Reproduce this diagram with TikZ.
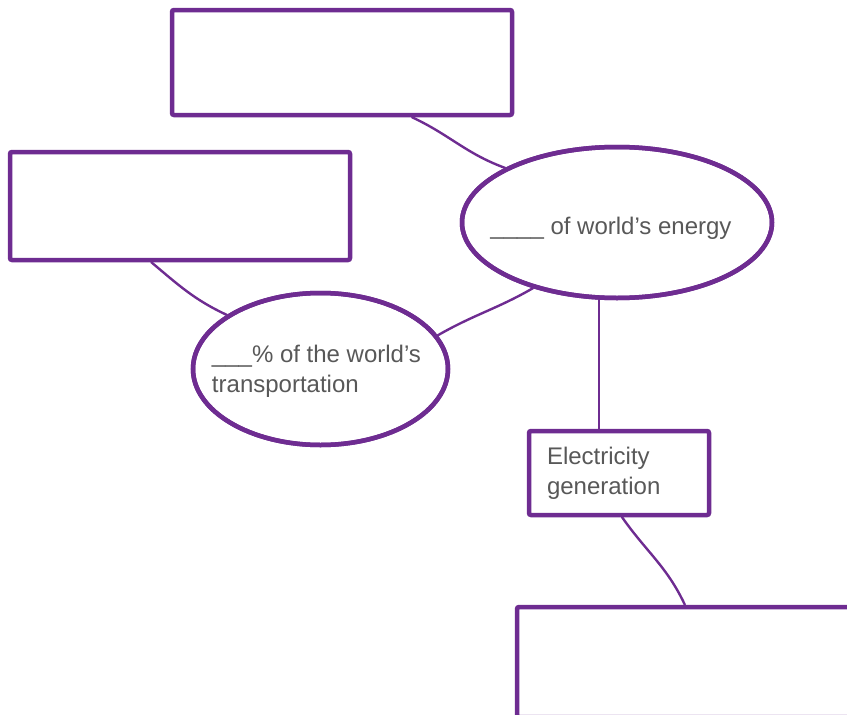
\documentclass[tikz,border=0pt]{standalone}
\usepackage{fontspec}
\setmainfont{Liberation Sans}
\usetikzlibrary{shapes.geometric}
\definecolor{MapPurple}{RGB}{110,44,145}
\definecolor{MapGray}{RGB}{88,88,88}
\tikzset{
  map/box/.style={
    draw=MapPurple,
    line width=4.5pt,
    rounded corners=2pt,
    fill=white,
    inner sep=0pt
  },
  map/bubble/.style={
    ellipse,
    draw=MapPurple,
    line width=4.5pt,
    fill=white,
    inner sep=0pt
  },
  map/text/.style={font=\fontsize{24}{30}\selectfont, text=MapGray, align=left},
  map/link/.style={draw=MapPurple, line width=2.4pt, line cap=round}
}
\begin{document}
\begin{tikzpicture}[x=1pt,y=-1pt]
  \useasboundingbox (0,0) rectangle (847,715);
  \clip (0,0) rectangle (847,715);
  % empty boxes
  \node[map/box,minimum width=340pt,minimum height=105pt] (top) at (342,62.5) {};
  \node[map/box,minimum width=340pt,minimum height=108pt] (left) at (180,206) {};
  \node[map/box,minimum width=360pt,minimum height=110pt] (bottom) at (697,662) {};
  % bubbles
  \node[map/bubble,minimum width=310pt,minimum height=151pt,
        label={[map/text,xshift=-6pt,yshift=-6pt]center:\_\_\_\_ of world’s energy}] (energy) at (617,222.5) {};
  \node[map/bubble,minimum width=255pt,minimum height=152pt,
        label={[map/text,xshift=-4pt,yshift=-2pt]center:\_\_\_\% of the world’s\\transportation}] (transport) at (320.5,369) {};
  \node[map/box,map/text,minimum height=84pt,text width=144pt,inner xsep=18pt] (elec) at (619,473) {Electricity\\generation};
  % links
  \draw[map/link] (top.-38) to[out=-25,in=160] (energy.154);
  \draw[map/link] (left.-117) to[out=-40,in=155] (transport.150);
  \draw[map/link] (transport.16) to[out=30,in=-150] (energy.-142);
  \draw[map/link] (energy.-103) -- (energy.-103 |- elec.north);
  \draw[map/link] (elec.-86) to[out=-55,in=115] (bottom.102);
  % redraw outlines over link ends
  \node[map/bubble,minimum width=310pt,minimum height=151pt,fill=none] at (energy) {};
  \node[map/bubble,minimum width=255pt,minimum height=152pt,fill=none] at (transport) {};
\end{tikzpicture}
\end{document}
